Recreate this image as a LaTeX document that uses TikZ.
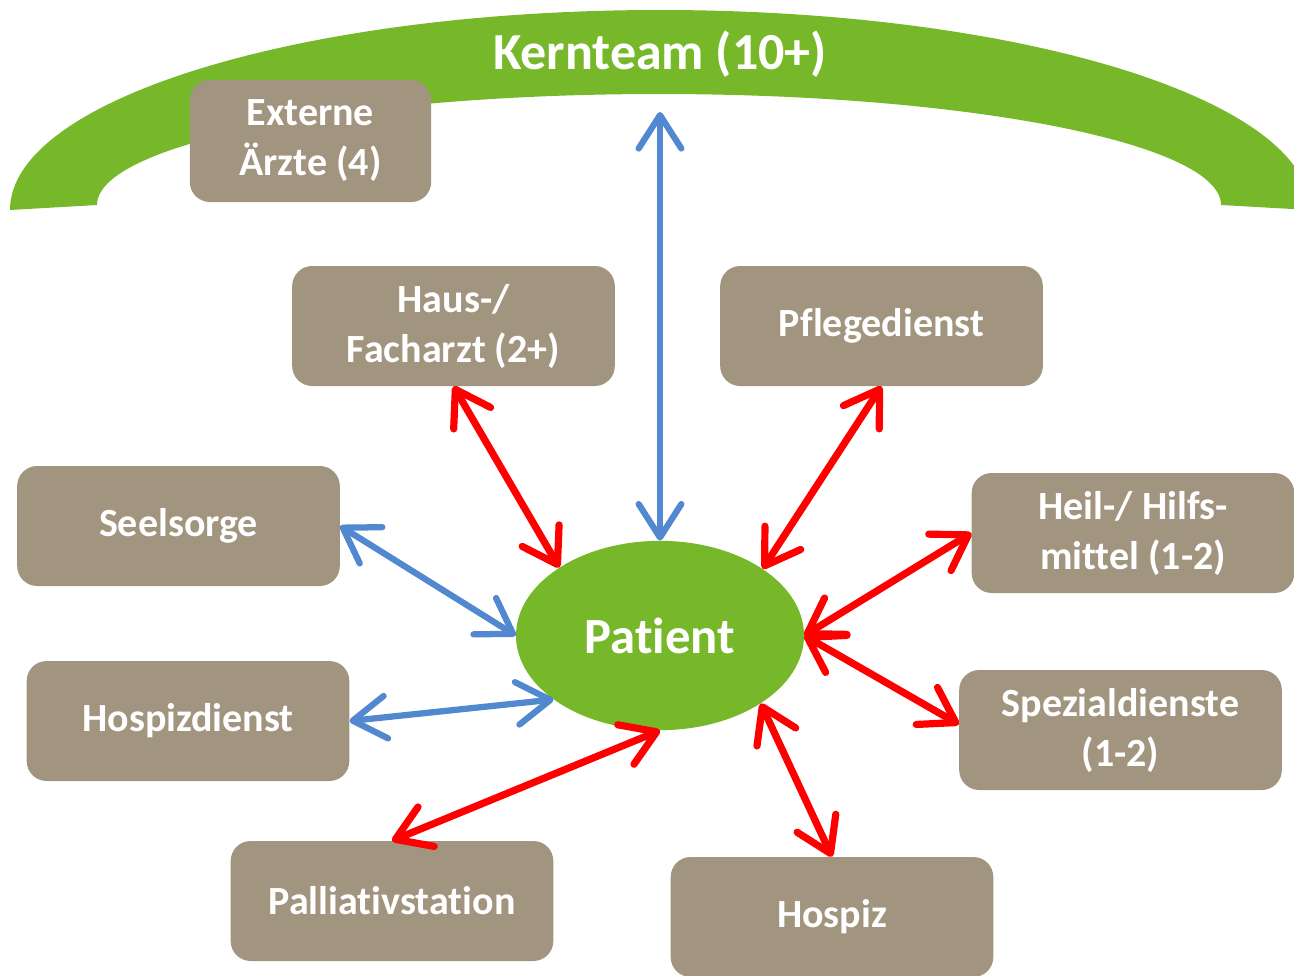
\documentclass[tikz,border=0pt]{standalone}
\usepackage{fontspec}
\setmainfont[Ligatures=NoCommon]{Carlito}
\usetikzlibrary{arrows.meta,shapes.geometric}
\definecolor{kgreen}{HTML}{77B82A}
\definecolor{boxtan}{HTML}{A29580}
\definecolor{ared}{HTML}{FF0000}
\definecolor{ablue}{HTML}{5288CF}
\tikzset{
  box/.style={draw=none, fill=boxtan, rounded corners=15pt, minimum width=242pt, minimum height=90pt,
    text=white, font=\fontsize{30}{37.5}\selectfont\bfseries, align=center, inner sep=0pt},
  conn/.style={line width=5.4pt, line cap=round, {Straight Barb[length=25pt,width=32pt,round]}-{Straight Barb[length=25pt,width=32pt,round]}},
  redconn/.style={conn, draw=ared},
  blueconn/.style={conn, draw=ablue, line width=4.7pt}
}
\begin{document}
\begin{tikzpicture}[x=0.75pt,y=0.75pt]
\useasboundingbox (0,-975) rectangle (1294,0);
% Kernteam arc band
\fill[kgreen] (10,-210) arc[start angle=180, end angle=0, x radius=650, y radius=200]
  -- (1221,-205) arc[start angle=0, end angle=180, x radius=562, y radius=111] -- cycle;
\node[text=white, font=\fontsize{39}{46}\selectfont\bfseries] (kern) at (660,-54) {Kernteam (10+)};
\coordinate (kt) at (660,-112);
% boxes
\node[box, minimum width=181pt, minimum height=91.5pt] (ext) at (310.5,-141) {Externe\\Ärzte (4)};
\node[box] (haus) at (453.5,-326) {Haus-/\\Facharzt (2+)};
\node[box] (pflege) at (881.5,-326) {Pflegedienst};
\node[box] (seel) at (178.5,-526) {Seelsorge};
\node[box] (heil) at (1133,-533) {Heil-/ Hilfs-\\mittel (1-2)};
\node[box] (hdienst) at (188,-721) {Hospizdienst};
\node[box] (spez) at (1120.5,-730) {Spezialdienste\\(1-2)};
\node[box] (pall) at (392,-901) {Palliativstation};
\node[box] (hospiz) at (832,-917) {Hospiz};
% patient
\node[ellipse, fill=kgreen, minimum width=216pt, minimum height=142pt, inner sep=0pt,
  text=white, font=\fontsize{38}{46}\selectfont\bfseries] (pat) at (660,-635.5) {Patient};
% connectors
\draw[blueconn] (kt) -- (pat.north);
\draw[redconn] (haus.south) -- (pat.146);
\draw[redconn] (pflege.south) -- (pat.33);
\draw[blueconn] (seel.east) -- (pat.west);
\draw[redconn] (heil.west) -- (pat.east);
\draw[blueconn] (hdienst.east) -- (pat.211);
\draw[redconn] (pat.east) -- (spez.178);
\draw[redconn] (pall.north) -- (pat.south);
\draw[redconn] (pat.326) -- (hospiz.north);
\end{tikzpicture}
\end{document}
